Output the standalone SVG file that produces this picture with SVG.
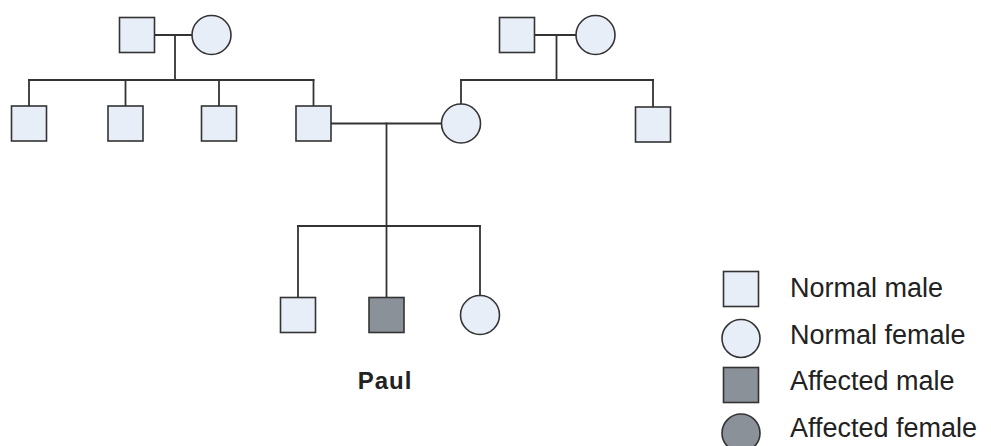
<svg xmlns="http://www.w3.org/2000/svg" width="991" height="446" viewBox="0 0 991 446">
<style>
.n{fill:#e8eef7;stroke:#333;stroke-width:1.6}
.a{fill:#8b9198;stroke:#333;stroke-width:1.6}
.c line{stroke:#333;stroke-width:1.8;stroke-linecap:square}
.t{font-family:"Liberation Sans",Arial,sans-serif;fill:#222}
.lg{font-size:27px}
</style>
<rect width="991" height="446" fill="#fff"/>
<g id="connectors" class="c">
<line x1="154.5" y1="35" x2="192" y2="35"/>
<line x1="175" y1="35" x2="175" y2="80"/>
<line x1="29" y1="80" x2="313.5" y2="80"/>
<line x1="29" y1="80" x2="29" y2="106"/>
<line x1="125.5" y1="80" x2="125.5" y2="106"/>
<line x1="219" y1="80" x2="219" y2="106"/>
<line x1="313.5" y1="80" x2="313.5" y2="106"/>
<line x1="534.5" y1="35" x2="576" y2="35"/>
<line x1="556.5" y1="35" x2="556.5" y2="80"/>
<line x1="461" y1="80" x2="653" y2="80"/>
<line x1="461" y1="80" x2="461" y2="104"/>
<line x1="653" y1="80" x2="653" y2="107"/>
<line x1="331" y1="123.5" x2="441.5" y2="123.5"/>
<line x1="386.5" y1="123.5" x2="386.5" y2="226"/>
<line x1="298" y1="226" x2="480" y2="226"/>
<line x1="298" y1="226" x2="298" y2="297.5"/>
<line x1="386.5" y1="226" x2="386.5" y2="297.5"/>
<line x1="480" y1="226" x2="480" y2="295.5"/>
</g>
<g id="gf1"><rect class="n" x="119.5" y="17.5" width="35" height="35"/></g>
<g id="gm1"><circle class="n" cx="211.5" cy="35" r="19.5"/></g>
<g id="uncle1"><rect class="n" x="11.5" y="106" width="35" height="35"/></g>
<g id="uncle2"><rect class="n" x="108" y="106" width="35" height="35"/></g>
<g id="uncle3"><rect class="n" x="201.5" y="106" width="35" height="35"/></g>
<g id="father"><rect class="n" x="296" y="106" width="35" height="35"/></g>
<g id="gf2"><rect class="n" x="499.5" y="17.5" width="35" height="35"/></g>
<g id="gm2"><circle class="n" cx="595.5" cy="35" r="19.5"/></g>
<g id="mother"><circle class="n" cx="461" cy="123.5" r="19.5"/></g>
<g id="uncle4"><rect class="n" x="635.5" y="107" width="35" height="35"/></g>
<g id="brother"><rect class="n" x="280.5" y="297.5" width="35" height="35"/></g>
<g id="paul"><rect class="a" x="369" y="297.5" width="35" height="35"/>
<text class="t" x="385" y="389" font-size="24" font-weight="bold" text-anchor="middle" letter-spacing="1">Paul</text></g>
<g id="sister"><circle class="n" cx="480" cy="315" r="19.5"/></g>
<g id="legend">
<rect class="n" x="723.5" y="271.5" width="35" height="35"/>
<circle class="n" cx="741" cy="338.5" r="19"/>
<rect class="a" x="723.5" y="367.5" width="35" height="35"/>
<circle class="a" cx="741" cy="433" r="19"/>
<text class="t lg" x="790" y="297">Normal male</text>
<text class="t lg" x="790" y="343.5">Normal female</text>
<text class="t lg" x="790" y="390">Affected male</text>
<text class="t lg" x="790" y="436.5">Affected female</text>
</g>
</svg>
